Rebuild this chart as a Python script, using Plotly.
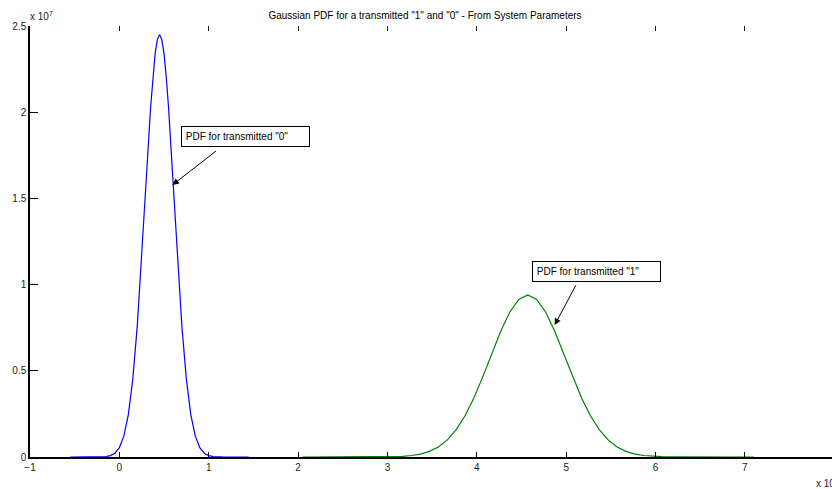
import plotly.graph_objects as go

# Values as displayed on the axes (x in units of 1e-7, y in units of 1e7)
x_zero = [-0.55, -0.25, -0.2, -0.15, -0.1, -0.05, 0.0, 0.05, 0.1, 0.15, 0.2, 0.25,
          0.3, 0.35, 0.375, 0.4, 0.425, 0.45, 0.475, 0.5, 0.525, 0.55, 0.6, 0.65,
          0.7, 0.75, 0.8, 0.85, 0.9, 0.95, 1.0, 1.05, 1.1, 1.15, 1.45]
y_zero = [0.0, 0.0002, 0.0009, 0.0028, 0.0083, 0.022, 0.054, 0.121, 0.244, 0.450,
          0.756, 1.154, 1.604, 2.030, 2.204, 2.338, 2.421, 2.45, 2.421, 2.338, 2.204,
          2.030, 1.604, 1.154, 0.756, 0.450, 0.244, 0.121, 0.054, 0.022, 0.0083,
          0.0028, 0.0009, 0.0002, 0.0]

x_one = [2.05, 2.97, 3.07, 3.17, 3.27, 3.37, 3.47, 3.57, 3.67, 3.77, 3.87, 3.97,
         4.07, 4.17, 4.27, 4.37, 4.47, 4.57, 4.67, 4.77, 4.87, 4.97, 5.07, 5.17,
         5.27, 5.37, 5.47, 5.57, 5.67, 5.77, 5.87, 5.97, 6.07, 6.17, 7.1]
y_one = [0.0, 0.0008, 0.0018, 0.004, 0.0086, 0.0171, 0.0325, 0.058, 0.099, 0.159,
         0.241, 0.345, 0.469, 0.602, 0.732, 0.841, 0.914, 0.94, 0.914, 0.841, 0.732,
         0.602, 0.469, 0.345, 0.241, 0.159, 0.099, 0.058, 0.0325, 0.0171, 0.0086,
         0.004, 0.0018, 0.0008, 0.0]

x_ticks = [-1, 0, 1, 2, 3, 4, 5, 6, 7]
y_ticks = [0, 0.5, 1, 1.5, 2, 2.5]
y_tick_text = ["0", "0.5", "1", "1.5", "2", "2.5"]

title = 'Gaussian PDF for a transmitted "1" and "0" - From System Parameters'
label_zero = 'PDF for transmitted "0"'
label_one = 'PDF for transmitted "1"'

FONT = "Liberation Sans, Arial, sans-serif"

fig = go.Figure()
fig.add_trace(go.Scatter(x=x_zero, y=y_zero, mode="lines",
                         line=dict(color="#0000ff", width=1.2), showlegend=False))
fig.add_trace(go.Scatter(x=x_one, y=y_one, mode="lines",
                         line=dict(color="#008000", width=1.2), showlegend=False))
# invisible trace to host the top tick axis
fig.add_trace(go.Scatter(x=[-1, 7], y=[0, 0], mode="lines", xaxis="x2",
                         line=dict(width=0), hoverinfo="skip", showlegend=False))

fig.update_layout(
    width=832, height=489,
    margin=dict(l=30, r=0, t=26, b=31.5),
    paper_bgcolor="white", plot_bgcolor="white",
    font=dict(family=FONT, size=10, color="black"),
    title=dict(text=title, x=425/832, xanchor="center", y=1-15/489, yanchor="middle",
               font=dict(size=10, family=FONT, color="black")),
    xaxis=dict(range=[-1, 7.975], tickvals=x_ticks, ticks="inside", ticklen=5,
               tickcolor="black", showline=True, linecolor="black", linewidth=1.5,
               showgrid=False, zeroline=False, tickfont=dict(size=10, color="#222")),
    xaxis2=dict(range=[-1, 7.975], tickvals=x_ticks, ticks="inside", ticklen=5,
                tickcolor="black", overlaying="x", side="top", showticklabels=False,
                showline=False, showgrid=False, zeroline=False),
    yaxis=dict(range=[0, 2.5], tickvals=y_ticks, ticktext=y_tick_text, ticks="inside",
               ticklen=8, tickcolor="black", showline=True, linecolor="black",
               linewidth=1.5, showgrid=False, zeroline=False,
               tickfont=dict(size=10, color="#222")),
)

# exponent labels
fig.add_annotation(text="x 10<sup>7</sup>", xref="paper", yref="paper",
                   x=0, y=1, xanchor="left", yanchor="bottom", yshift=2, xshift=-2,
                   showarrow=False, font=dict(size=10, color="#222"))
fig.add_annotation(text="x 10<sup>-7</sup>", xref="paper", yref="paper",
                   x=1, y=0, xanchor="left", yanchor="top", xshift=-18, yshift=-18,
                   showarrow=False, font=dict(size=10, color="#222"))

# text boxes
fig.add_annotation(text="&nbsp;" + label_zero, x=1.417, y=1.859, xref="x", yref="y",
                   showarrow=False, width=125, height=17, align="left",
                   bordercolor="black", borderwidth=1, borderpad=1, bgcolor="white",
                   font=dict(size=10, color="black"))
fig.add_annotation(text="&nbsp;" + label_one, x=5.334, y=1.075, xref="x", yref="y",
                   showarrow=False, width=125, height=17, align="left",
                   bordercolor="black", borderwidth=1, borderpad=1, bgcolor="white",
                   font=dict(size=10, color="black"))
# arrows
fig.add_annotation(text="", x=0.594, y=1.578, xref="x", yref="y", showarrow=True,
                   ax=45, ay=-35, arrowhead=2, arrowsize=1.3, arrowwidth=1,
                   arrowcolor="black")
fig.add_annotation(text="", x=4.871, y=0.766, xref="x", yref="y", showarrow=True,
                   ax=22, ay=-41, arrowhead=2, arrowsize=1.3, arrowwidth=1,
                   arrowcolor="black")

fig.write_html("out.html")
